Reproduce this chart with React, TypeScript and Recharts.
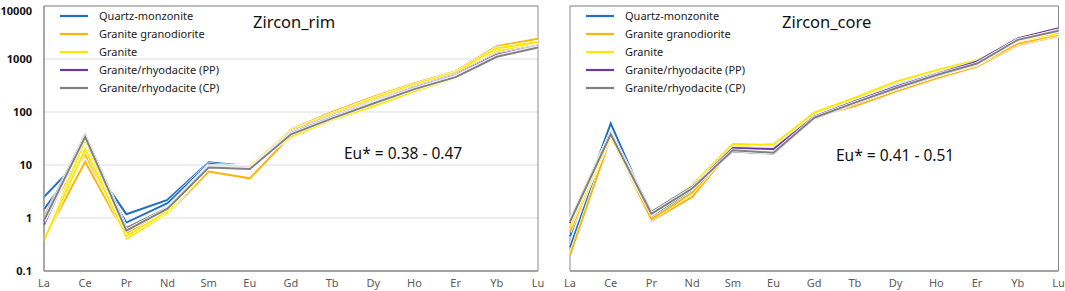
import React from 'react';
import { LineChart, Line, XAxis, YAxis, CartesianGrid, ReferenceArea, Legend, Customized } from 'recharts';

const ELEMENTS = ['La', 'Ce', 'Pr', 'Nd', 'Sm', 'Eu', 'Gd', 'Tb', 'Dy', 'Ho', 'Er', 'Yb', 'Lu'];
const Y_TICKS = [0.1, 1, 10, 100, 1000, 10000];

const GROUP_NAMES = [
  'Quartz-monzonite',
  'Granite granodiorite',
  'Granite',
  'Granite/rhyodacite (PP)',
  'Granite/rhyodacite (CP)',
];
const GROUP_COLORS = ['#1f6fc5', '#fbb40a', '#fbe800', '#6a3a9c', '#808080'];

// Zircon rim samples (chondrite-normalised)
const rimQM1 = [2.5, 16, 1.18, 2.2, 11.2, 9.5, 46, 95, 185, 340, 570, 1550, 2000];
const rimQM2 = [1.46, 17, 0.82, 1.9, 10.5, 9.2, 44, 90, 175, 320, 550, 1500, 1950];
const rimGG1 = [0.4, 11.5, 0.45, 1.2, 7.5, 5.6, 36, 75, 140, 270, 470, 1300, 1900];
const rimGG2 = [1.14, 16, 0.52, 1.3, 9.2, 9.6, 47, 100, 195, 350, 590, 1750, 2400];
const rimG1 = [0.36, 30, 0.4, 1.25, 9.0, 9.7, 34, 71, 128, 245, 440, 1400, 2050];
const rimG2 = [0.38, 20, 0.45, 1.35, 9.5, 9.6, 45, 92, 180, 330, 560, 1600, 2100];
const rimPP1 = [0.74, 37, 0.6, 1.6, 9.8, 9.0, 42, 85, 160, 300, 510, 1250, 1800];
const rimPP2 = [0.85, 35, 0.62, 1.55, 9.5, 8.8, 40, 82, 155, 290, 490, 1200, 1750];
const rimCP1 = [1.0, 37, 0.65, 1.55, 9.3, 8.5, 40, 80, 150, 280, 470, 1120, 1700];
const rimCP2 = [0.9, 34, 0.58, 1.5, 9.0, 8.4, 38, 76, 145, 270, 455, 1100, 1650];

// Zircon core samples
const coreQM1 = [0.45, 61, 1.1, 3.6, 24, 25, 91, 170, 320, 540, 860, 2100, 3000];
const coreQM2 = [0.28, 40, 1.0, 3.4, 23, 23, 88, 165, 310, 520, 840, 2050, 2950];
const coreGG1 = [0.2, 34, 0.88, 2.5, 21, 21, 80, 130, 242, 433, 716, 1840, 2720];
const coreGG2 = [0.55, 36, 0.95, 3.0, 22, 20, 85, 150, 280, 480, 780, 1950, 2850];
const coreG1 = [0.69, 34, 1.2, 4.2, 25, 24, 97, 186, 373, 617, 955, 2200, 3100];
const corePP1 = [0.8, 41, 1.25, 3.8, 21, 20, 82, 160, 300, 520, 900, 2450, 3800];
const coreCP1 = [0.91, 41, 1.3, 3.9, 18, 16.3, 76, 145, 270, 480, 800, 2250, 3500];
const coreCP2 = [0.85, 38, 1.2, 3.6, 19, 17, 78, 150, 280, 500, 820, 2300, 3400];

const RIM_SERIES = [
  { group: 0, values: rimQM1 },
  { group: 0, values: rimQM2 },
  { group: 1, values: rimGG1 },
  { group: 1, values: rimGG2 },
  { group: 2, values: rimG1 },
  { group: 2, values: rimG2 },
  { group: 3, values: rimPP1 },
  { group: 3, values: rimPP2 },
  { group: 4, values: rimCP1 },
  { group: 4, values: rimCP2 },
];

const CORE_SERIES = [
  { group: 0, values: coreQM1 },
  { group: 0, values: coreQM2 },
  { group: 1, values: coreGG1 },
  { group: 1, values: coreGG2 },
  { group: 2, values: coreG1 },
  { group: 3, values: corePP1 },
  { group: 4, values: coreCP1 },
  { group: 4, values: coreCP2 },
];

const FONT = '"Noto Sans", "Open Sans", sans-serif';
const FRAME = '#8a8a8a';

function buildData(series: { group: number; values: number[] }[]) {
  return ELEMENTS.map((el, i) => {
    const row: Record<string, number | string> = { el };
    series.forEach((s, k) => {
      row['s' + k] = s.values[i];
    });
    return row;
  });
}

const LegendBox = () => (
  <div style={{ fontFamily: FONT, fontSize: 11, color: '#222' }}>
    {GROUP_NAMES.map((name, g) => (
      <div key={name} style={{ height: 17.9, display: 'flex', alignItems: 'center' }}>
        <svg width={28} height={4} style={{ marginRight: 11 }}>
          <line x1={0} y1={2} x2={28} y2={2} stroke={GROUP_COLORS[g]} strokeWidth={2.2} />
        </svg>
        <span>{name}</span>
      </div>
    ))}
  </div>
);

const YTick = (props: any) => {
  const { x, y, payload } = props;
  const shift = payload.value === 10000 ? 2.5 : 0.5;
  return (
    <text x={x} y={y + shift} dy="0.355em" textAnchor="end" fill="#111" fontSize={11} fontWeight={700} fontFamily={FONT}>
      {String(payload.value)}
    </text>
  );
};

type PanelProps = {
  series: { group: number; values: number[] }[];
  width: number;
  margin: { top: number; right: number; bottom: number; left: number };
  showY: boolean;
  title: string;
  titleX: number;
  eu: string;
  euX: number;
  euY: number;
  legendLeft: number;
};

function Panel(p: PanelProps) {
  const data = buildData(p.series);
  return (
    <LineChart width={p.width} height={291} data={data} margin={p.margin}>
      <CartesianGrid vertical={false} stroke="#dcdcdc" strokeWidth={1} />
      <XAxis
        dataKey="el"
        interval={0}
        tickLine={false}
        axisLine={{ stroke: FRAME }}
        height={20}
        tick={{ fill: '#5a5a5a', fontSize: 11, fontFamily: FONT }}
      />
      <YAxis
        scale="log"
        domain={[0.1, 10000]}
        ticks={Y_TICKS}
        allowDataOverflow
        width={p.showY ? 44 : 0}
        tickLine={false}
        tickSize={6}
        tickMargin={6}
        axisLine={{ stroke: FRAME }}
        tick={p.showY ? <YTick /> : false}
      />
      <ReferenceArea x1="La" x2="Lu" y1={0.1} y2={10000} fill="none" stroke={FRAME} strokeWidth={1} ifOverflow="visible" />
      {p.series.map((s, k) => [
        <Line
          key={'h' + k}
          dataKey={'s' + k}
          stroke="#ffffff"
          strokeWidth={3.4}
          dot={false}
          activeDot={false}
          legendType="none"
          isAnimationActive={false}
        />,
        <Line
          key={'l' + k}
          dataKey={'s' + k}
          name={GROUP_NAMES[s.group]}
          stroke={GROUP_COLORS[s.group]}
          strokeWidth={2}
          dot={false}
          activeDot={false}
          legendType="none"
          isAnimationActive={false}
        />,
      ])}
      <Legend
        layout="vertical"
        align="center"
        verticalAlign="middle"
        content={() => <LegendBox />}
        wrapperStyle={{ top: 7, left: p.legendLeft, width: 220, height: 92 }}
      />
      <Customized
        component={() => (
          <g fontFamily={FONT} fill="#111">
            <text x={p.titleX} y={28} fontSize={16.5}>
              {p.title}
            </text>
            <text x={p.euX} y={p.euY} fontSize={15.5}>
              {p.eu}
            </text>
          </g>
        )}
      />
    </LineChart>
  );
}

export default function App() {
  return (
    <div style={{ position: 'absolute', left: 0, top: 0, width: 1065, height: 291, background: '#fff' }}>
      <div style={{ position: 'absolute', left: 0, top: 0 }}>
        <Panel
          series={RIM_SERIES}
          width={548}
          margin={{ top: 6, right: 10, bottom: 0, left: 0 }}
          showY
          title="Zircon_rim"
          titleX={253}
          eu="Eu* = 0.38 - 0.47"
          euX={344}
          euY={159}
          legendLeft={60}
        />
      </div>
      <div style={{ position: 'absolute', left: 548, top: 0 }}>
        <Panel
          series={CORE_SERIES}
          width={517}
          margin={{ top: 6, right: 6.5, bottom: 0, left: 22 }}
          showY={false}
          title="Zircon_core"
          titleX={234}
          eu="Eu* = 0.41 - 0.51"
          euX={288}
          euY={160.5}
          legendLeft={38}
        />
      </div>
    </div>
  );
}
